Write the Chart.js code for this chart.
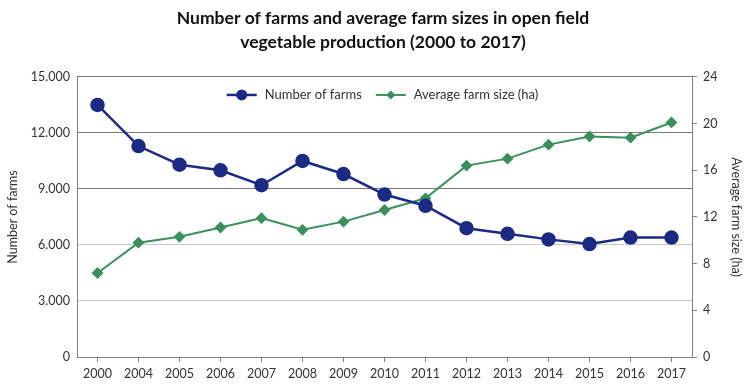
<!DOCTYPE html>
<html>
<head>
<meta charset="utf-8">
<script src="https://cdn.jsdelivr.net/npm/chart.js@4/dist/chart.umd.min.js"></script>
<style>
  html, body { margin: 0; padding: 0; background: #fff; }
  #wrap { width: 750px; height: 385px; }
</style>
</head>
<body>
<div id="wrap"><canvas id="canvas" width="750" height="385"></canvas></div>
<script>
const years = ['2000', '2004', '2005', '2006', '2007', '2008', '2009', '2010', '2011', '2012', '2013', '2014', '2015', '2016', '2017'];
const farms = [13500, 11300, 10300, 10000, 9200, 10500, 9800, 8700, 8100, 6900, 6600, 6300, 6050, 6400, 6400];
const farmSize = [7.2, 9.8, 10.3, 11.1, 11.9, 10.9, 11.6, 12.6, 13.6, 16.4, 17.0, 18.2, 18.9, 18.8, 20.1];
const leftTicks = [0, 3000, 6000, 9000, 12000, 15000];
const rightTicks = [0, 4, 8, 12, 16, 20, 24];

const blue = '#1c2a84';
const green = '#3b8f5c';
const textColor = '#333333';
const fontFamily = 'Lato, "Open Sans", sans-serif';

const fmt = v => v.toLocaleString('de-DE');

// legend drawn inside the plot area, top centre: line with marker, then label
const insideLegend = {
  id: 'insideLegend',
  afterLayout(chart) {
    // title sits a little right of the canvas centre in the original
    if (chart.titleBlock) chart.titleBlock.left += 16;
  },
  afterDatasetsDraw(chart) {
    const { ctx, chartArea } = chart;
    const lineW = 30, gap = 8, itemGap = 14;
    ctx.save();
    ctx.font = '13px ' + fontFamily;
    const items = chart.data.datasets.map(ds => ({ ds, w: lineW + gap + ctx.measureText(ds.label).width }));
    const total = items.reduce((a, it) => a + it.w, 0) + itemGap * (items.length - 1);
    let x = (chartArea.left + chartArea.right) / 2 - total / 2 - 2;
    const y = chartArea.top + 18;
    items.forEach(({ ds, w }) => {
      ctx.strokeStyle = ds.borderColor;
      ctx.fillStyle = ds.borderColor;
      ctx.lineWidth = ds.borderWidth;
      ctx.beginPath(); ctx.moveTo(x, y); ctx.lineTo(x + lineW, y); ctx.stroke();
      const cx = x + lineW / 2;
      ctx.beginPath();
      if (ds.pointStyle === 'circle') {
        ctx.arc(cx, y, 5.5, 0, Math.PI * 2);
      } else {
        ctx.moveTo(cx, y - 4.5); ctx.lineTo(cx + 4.5, y); ctx.lineTo(cx, y + 4.5); ctx.lineTo(cx - 4.5, y); ctx.closePath();
      }
      ctx.fill();
      ctx.fillStyle = textColor;
      ctx.textAlign = 'left';
      ctx.textBaseline = 'middle';
      ctx.fillText(ds.label, x + lineW + gap, y);
      x += w + itemGap;
    });
    ctx.restore();
  }
};

Chart.defaults.font.family = fontFamily;
Chart.defaults.color = textColor;

new Chart(document.getElementById('canvas').getContext('2d'), {
  type: 'line',
  data: {
    labels: years,
    datasets: [{
      label: 'Number of farms',
      data: farms,
      yAxisID: 'y',
      borderColor: blue,
      backgroundColor: blue,
      borderWidth: 2.5,
      pointStyle: 'circle',
      pointRadius: 6,
      pointHoverRadius: 6,
      tension: 0
    }, {
      label: 'Average farm size (ha)',
      data: farmSize,
      yAxisID: 'y1',
      borderColor: green,
      backgroundColor: green,
      borderWidth: 2,
      pointStyle: 'rectRot',
      pointRadius: 4.5,
      pointHoverRadius: 4.5,
      tension: 0
    }]
  },
  options: {
    responsive: false,
    animation: false,
    layout: { padding: 0 },
    plugins: {
      title: {
        display: true,
        text: ['Number of farms and average farm sizes in open field', 'vegetable production (2000 to 2017)'],
        color: '#111',
        font: { size: 17.5, weight: 'bold', lineHeight: 1.37 },
        padding: { top: 6, bottom: 23 }
      },
      legend: { display: false },
      tooltip: { enabled: false }
    },
    scales: {
      x: {
        offset: true,
        grid: { offset: false, drawOnChartArea: false, drawTicks: true, tickLength: 5, color: '#7f7f7f' },
        border: { color: '#7f7f7f' },
        ticks: { font: { size: 12.5 }, color: textColor, padding: 4, maxRotation: 0, autoSkip: false },
        afterFit: s => { s.height = 28; }
      },
      y: {
        position: 'left',
        min: 0,
        max: 15000,
        afterBuildTicks: s => { s.ticks = leftTicks.map(v => ({ value: v })); },
        grid: {
          drawTicks: false,
          color: ctx => (ctx.tick && ctx.tick.value >= 9000 ? '#7a7a7a' : '#c8c8c8')
        },
        border: { color: '#7f7f7f' },
        ticks: { font: { size: 12.5 }, color: textColor, padding: 7, callback: v => fmt(v) },
        title: { display: true, text: 'Number of farms', font: { size: 12.5 }, color: textColor, padding: { top: 5, bottom: 0 } },
        afterFit: s => { s.width = 77; }
      },
      y1: {
        position: 'right',
        min: 0,
        max: 24,
        afterBuildTicks: s => { s.ticks = rightTicks.map(v => ({ value: v })); },
        grid: { drawOnChartArea: false, drawTicks: true, tickLength: 5, color: '#7f7f7f' },
        border: { color: '#7f7f7f' },
        ticks: { font: { size: 12.5 }, color: textColor, padding: 6 },
        title: { display: true, text: 'Average farm size (ha)', font: { size: 12.5 }, color: textColor, padding: { top: 6, bottom: 0 } },
        afterFit: s => { s.width = 58; }
      }
    }
  },
  plugins: [insideLegend]
});
</script>
</body>
</html>
